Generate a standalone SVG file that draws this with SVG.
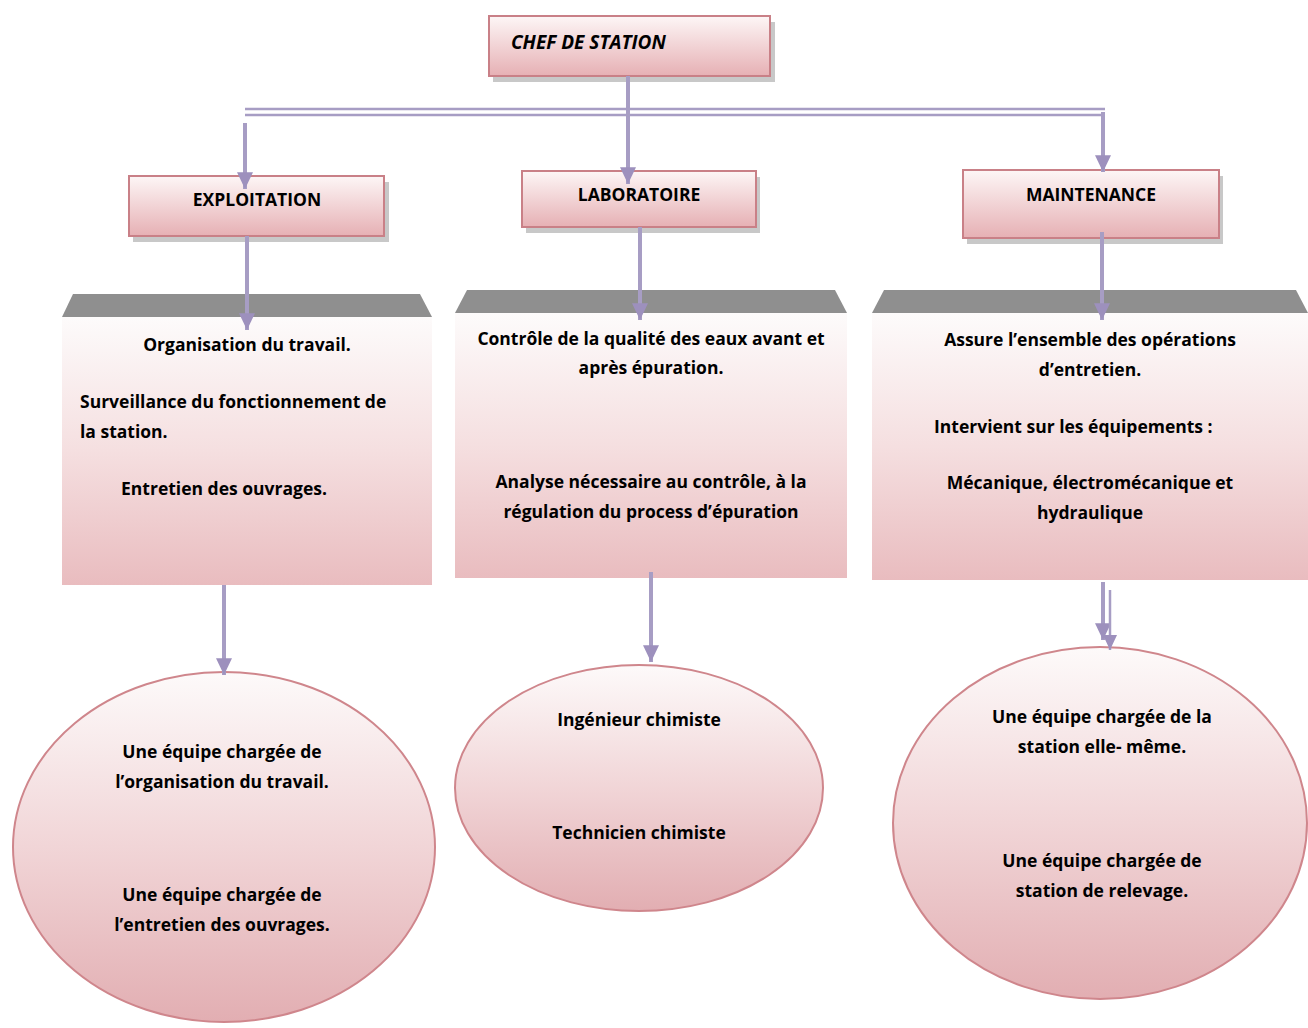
<svg xmlns="http://www.w3.org/2000/svg" width="1308" height="1028" viewBox="0 0 1308 1028">
<defs>
<linearGradient id="gBox" x1="0" y1="0" x2="0" y2="1"><stop offset="0" stop-color="#fdf6f6"/><stop offset="1" stop-color="#e6b0b4"/></linearGradient>
<linearGradient id="gRect" x1="0" y1="0" x2="0" y2="1"><stop offset="0" stop-color="#fdfbfb"/><stop offset="0.5" stop-color="#f5dfe0"/><stop offset="1" stop-color="#e9bcbf"/></linearGradient>
<linearGradient id="gEll" x1="0" y1="0" x2="0" y2="1"><stop offset="0" stop-color="#fdfafa"/><stop offset="0.5" stop-color="#f1d5d7"/><stop offset="1" stop-color="#e2aeb2"/></linearGradient>
<marker id="arr" viewBox="0 0 10 10" refX="10" refY="5" markerWidth="4.2" markerHeight="4" markerUnits="strokeWidth" orient="auto" preserveAspectRatio="none">
<path d="M0,0 L10,5 L0,10 Z" fill="#9d90bd"/></marker>
<marker id="arrT" viewBox="0 0 10 10" refX="10" refY="5" markerWidth="6" markerHeight="5.6" markerUnits="strokeWidth" orient="auto" preserveAspectRatio="none">
<path d="M0,0 L10,5 L0,10 Z" fill="#9d90bd"/></marker>
</defs>
<style>
text{font-family:"Open Sans",Lato,"Liberation Sans",sans-serif;font-weight:bold;font-size:17.5px;fill:#000}
.c{text-anchor:middle}
.title{font-size:19px;font-style:italic}
.box{fill:url(#gBox);stroke:#c98087;stroke-width:2}
.shadow{fill:#9b9b9b;opacity:0.55}
.top{fill:#8f8f8f}
.body{fill:url(#gRect)}
.ell{fill:url(#gEll);stroke:#cf868c;stroke-width:2}
.ln{stroke:#a79dc4;stroke-width:4;fill:none}
.thin{stroke:#a79dc4;stroke-width:2.5;fill:none}
</style>
<rect width="1308" height="1028" fill="#fff"/>

<g id="chef">
<rect class="shadow" x="493" y="22" width="282" height="60"/>
<rect class="box" x="489" y="16" width="281" height="60"/>
<text class="title" x="511" y="49">CHEF DE STATION</text>
</g>

<g id="exploitation">
<rect class="shadow" x="133" y="182" width="256" height="60"/>
<rect class="box" x="129" y="176" width="255" height="60"/>
<text class="c" x="257" y="206">EXPLOITATION</text>
</g>

<g id="laboratoire">
<rect class="shadow" x="526" y="177" width="234" height="56"/>
<rect class="box" x="522" y="171" width="234" height="56"/>
<text class="c" x="639" y="201">LABORATOIRE</text>
</g>

<g id="maintenance">
<rect class="shadow" x="967" y="176" width="256" height="68"/>
<rect class="box" x="963" y="170" width="256" height="68"/>
<text class="c" x="1091" y="201">MAINTENANCE</text>
</g>

<g id="exploitation-tasks">
<polygon class="top" points="73,294 420,294 432,317 62,317"/>
<rect class="body" x="62" y="317" width="370" height="268"/>
<text class="c" x="247" y="351">Organisation du travail.</text>
<text x="80" y="408">Surveillance du fonctionnement de</text>
<text x="80" y="438">la station.</text>
<text class="c" x="224" y="495">Entretien des ouvrages.</text>
</g>

<g id="laboratoire-tasks">
<polygon class="top" points="467,290 835,290 847,313 455,313"/>
<rect class="body" x="455" y="313" width="392" height="265"/>
<text class="c" x="651" y="345">Contrôle de la qualité des eaux avant et</text>
<text class="c" x="651" y="374">après épuration.</text>
<text class="c" x="651" y="488">Analyse nécessaire au contrôle, à la</text>
<text class="c" x="651" y="518">régulation du process d’épuration</text>
</g>

<g id="maintenance-tasks">
<polygon class="top" points="884,290 1296,290 1308,313 872,313"/>
<rect class="body" x="872" y="313" width="436" height="267"/>
<text class="c" x="1090" y="346">Assure l’ensemble des opérations</text>
<text class="c" x="1090" y="376">d’entretien.</text>
<text x="934" y="433">Intervient sur les équipements :</text>
<text class="c" x="1090" y="489">Mécanique, électromécanique et</text>
<text class="c" x="1090" y="519">hydraulique</text>
</g>

<g id="exploitation-teams">
<ellipse class="ell" cx="224" cy="847" rx="211" ry="175"/>
<text class="c" x="222" y="758">Une équipe chargée de</text>
<text class="c" x="222" y="788">l’organisation du travail.</text>
<text class="c" x="222" y="901">Une équipe chargée de</text>
<text class="c" x="222" y="931">l’entretien des ouvrages.</text>
</g>

<g id="laboratoire-teams">
<ellipse class="ell" cx="639" cy="788" rx="184" ry="123"/>
<text class="c" x="639" y="726">Ingénieur chimiste</text>
<text class="c" x="639" y="839">Technicien chimiste</text>
</g>

<g id="maintenance-teams">
<ellipse class="ell" cx="1100" cy="823" rx="207" ry="176"/>
<text class="c" x="1102" y="723">Une équipe chargée de la</text>
<text class="c" x="1102" y="753">station elle- même.</text>
<text class="c" x="1102" y="867">Une équipe chargée de</text>
<text class="c" x="1102" y="897">station de  relevage.</text>
</g>

<g id="connectors">
<line class="thin" x1="245" y1="109" x2="1105" y2="109"/>
<line class="thin" x1="245" y1="115" x2="1101" y2="115"/>
<path class="ln" d="M1103,112 V172" marker-end="url(#arr)"/>
<path class="ln" d="M245,123 V189" marker-end="url(#arr)"/>
<path class="ln" d="M628,76 V184" marker-end="url(#arr)"/>
<path class="ln" d="M247,236 V330" marker-end="url(#arr)"/>
<path class="ln" d="M640,227 V320" marker-end="url(#arr)"/>
<path class="ln" d="M1102,232 V320" marker-end="url(#arr)"/>
<path class="ln" d="M224,585 V675" marker-end="url(#arr)"/>
<path class="ln" d="M651,572 V662" marker-end="url(#arr)"/>
<path class="ln" d="M1103,582 V640" marker-end="url(#arr)"/>
<path class="thin" d="M1110,590 V650" marker-end="url(#arrT)"/>
</g>
</svg>
